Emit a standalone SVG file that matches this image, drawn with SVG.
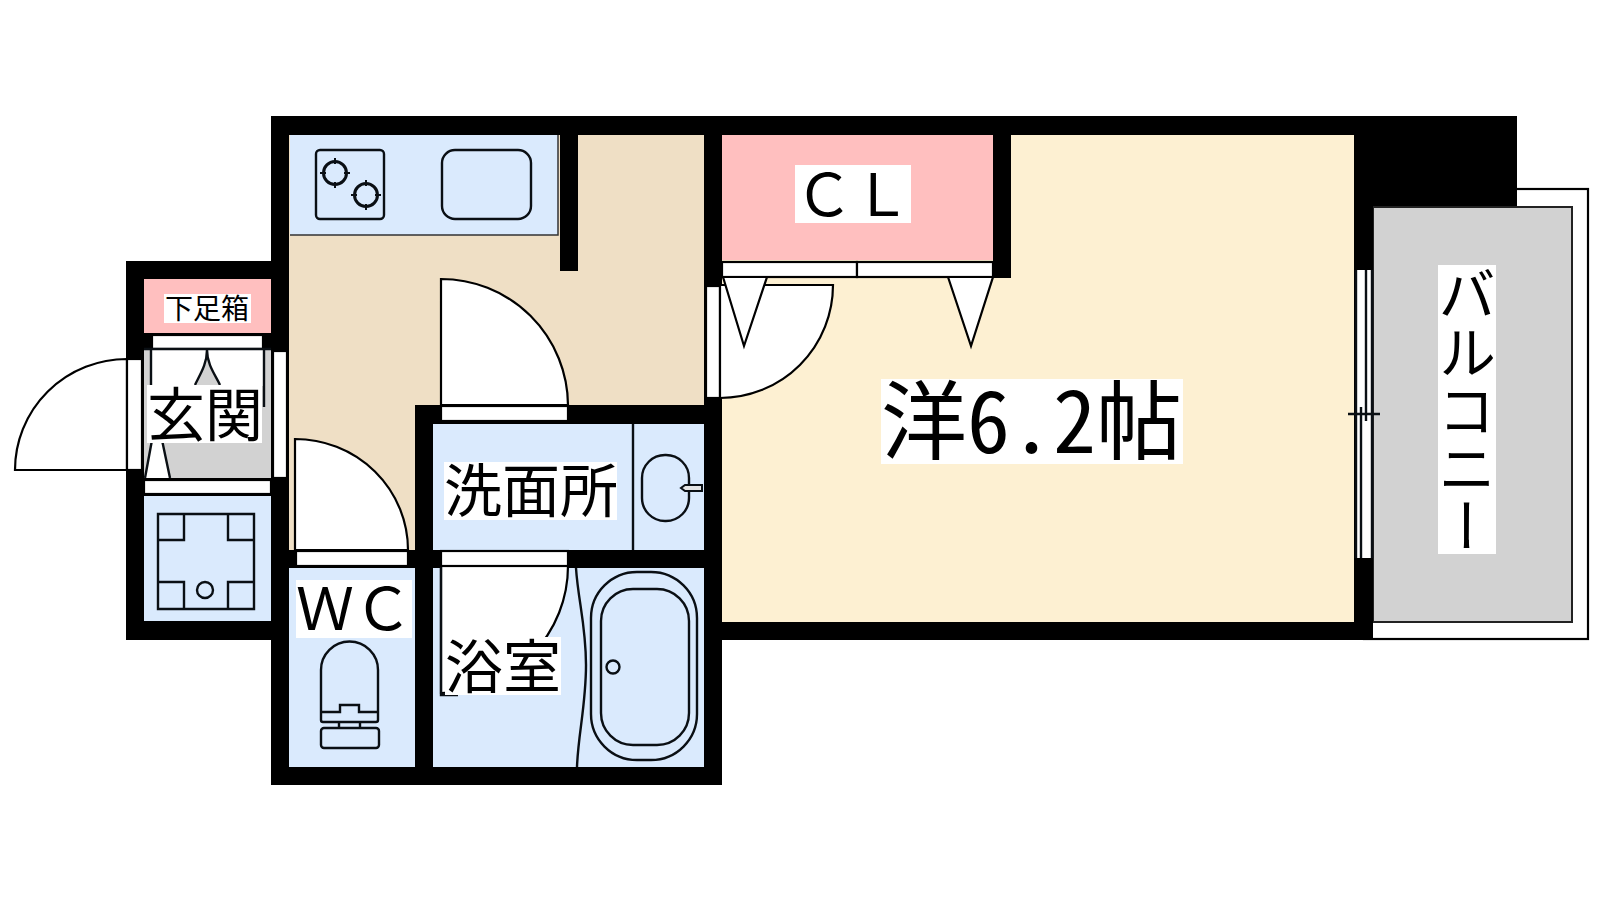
<svg xmlns="http://www.w3.org/2000/svg" width="1600" height="900" viewBox="0 0 1600 900">
<style>
.w{fill:#000}
.blue{fill:#daeafd}
.beige{fill:#efdfc5}
.cream{fill:#fdf0d2}
.pink{fill:#ffbfbf}
.grey{fill:#d2d2d2}
.bg{fill:#fff}
.s{fill:#fff;stroke:#000;stroke-width:2.2}
.l{fill:none;stroke:#0a0f14;stroke-width:2.4}
.b{fill:none;stroke:#0a0f14;stroke-width:3}
.tick{fill:none;stroke:#0a0f14;stroke-width:2}
.t{font-family:"Noto Sans CJK JP","Noto Sans",sans-serif;fill:#000}
.t58{font-size:58px}
.main{font-size:86px;font-feature-settings:"hwid"}
</style>
<rect width="1600" height="900" fill="#fff"/>
<g id="balcony-frame">
<rect class="s" x="1364" y="189" width="224" height="450"/>
</g>
<g id="walls">
<rect class="w" x="271" y="116" width="1246" height="91"/>
<rect class="w" x="271" y="116" width="18" height="669"/>
<rect class="w" x="126" y="261" width="163" height="379"/>
<rect class="w" x="271" y="600" width="451" height="185"/>
<rect class="w" x="704" y="116" width="669" height="524"/>
<rect class="w" x="289" y="550" width="144" height="18"/>
<rect class="w" x="415" y="405" width="18" height="380"/>
</g>
<g id="genkan">
<rect class="grey" x="144" y="349" width="127" height="129"/>
<rect class="pink" x="144" y="279" width="127" height="54"/>
<rect class="s" x="152" y="335" width="111" height="14"/>
<rect class="bg" x="152" y="350" width="112" height="36"/>
<path class="l" d="M151 349V386M264 349V407M144 349H271"/>
<path class="grey" d="M207 352C207 365 198 378 195 385H220C216 378 207 365 207 352Z"/>
<path class="l" d="M207 350C207 365 199 376 195 385M207 350C207 365 216 376 220 385"/>
<path class="bg" d="M152 440L145 478H170L162 440Z"/>
<path class="l" d="M152 440L145 478M162 440L170 478"/>
<path class="s" d="M127 359A112 111 0 0 0 15 470H127Z"/>
<rect class="s" x="127" y="359" width="15" height="111"/>
<rect class="s" x="273" y="351" width="14" height="127"/>
<rect class="s" x="144" y="480" width="127" height="14"/>
<rect class="bg" x="147" y="385" width="115" height="58"/>
<text class="t t58" x="147" y="436">玄関</text>
<rect class="bg" x="164" y="294" width="87" height="29"/>
<text class="t" font-size="28" x="165" y="319">下足箱</text>
</g>
<g id="laundry">
<rect class="blue" x="144" y="496" width="127" height="125"/>
<path class="l" d="M158 514H254V609H158ZM158 540H184V514M228 514V540H254M158 582H184V609M228 609V582H254"/>
<circle class="l" cx="205" cy="590" r="8"/>
</g>
<g id="kitchen">
<rect class="beige" x="289" y="135" width="415" height="270"/>
<rect class="beige" x="289" y="405" width="126" height="145"/>
<rect class="blue" x="290" y="135" width="268" height="100"/>
<path d="M290 235H558V135" fill="none" stroke="#333" stroke-width="1.5"/>
<rect class="w" x="560" y="116" width="18" height="155"/>
<rect class="l" x="316" y="150" width="68" height="69" rx="4"/>
<circle class="b" cx="335" cy="173" r="11.5"/>
<circle class="b" cx="366" cy="195" r="11.5"/>
<path class="tick" d="M335 158V164M335 182V188M320 173H326M344 173H350M366 180V186M366 204V210M351 195H357M375 195H381"/>
<rect class="l" x="442" y="150" width="89" height="69" rx="13"/>
<path class="s" d="M441 279A127 127 0 0 1 568 405H441Z"/>
<rect class="s" x="706" y="286" width="14" height="112"/>
</g>
<g id="washroom">
<rect class="w" x="415" y="405" width="307" height="19"/>
<rect class="w" x="704" y="398" width="18" height="242"/>
<rect class="blue" x="433" y="424" width="271" height="126"/>
<rect class="w" x="433" y="550" width="271" height="18"/>
<rect class="s" x="441" y="406" width="127" height="15"/>
<path class="l" d="M633 424V550"/>
<rect class="l" x="642" y="455" width="47" height="66" rx="23"/>
<path d="M702 485H685L681 488L685 491H702Z" fill="#e4e4e4" stroke="#0a0f14" stroke-width="2"/>
<rect class="bg" x="444" y="462" width="173" height="58"/>
<text class="t t58" x="444" y="512">洗面所</text>
</g>
<g id="wc">
<rect class="blue" x="289" y="568" width="126" height="199"/>
<path class="s" d="M295 439A113 111 0 0 1 408 550H295Z"/>
<rect class="s" x="296" y="551" width="112" height="15"/>
<rect class="bg" x="296" y="580" width="116" height="58"/>
<text class="t t58" x="296" y="630">ＷＣ</text>
<path class="l" d="M321 712V670A28 28 0 0 1 378 670V712M321 712H340V705H359V712H378V720Q378 722 376 722H323Q321 722 321 720ZM339 722V728M360 722V728"/>
<rect class="l" x="321" y="728" width="58" height="20" rx="3"/>
</g>
<g id="bath">
<rect class="blue" x="433" y="568" width="271" height="199"/>
<path class="s" d="M441 566H568A127 127 0 0 1 441 693Z"/>
<path class="l" d="M441 566V695H458"/>
<rect class="s" x="441" y="551" width="127" height="15"/>
<path class="l" d="M576 568C578 600 586 625 586 665C586 705 578 735 577 767"/>
<rect class="l" x="591" y="572" width="106" height="188" rx="46"/>
<rect class="l" x="601" y="589" width="88" height="156" rx="32"/>
<circle class="l" cx="613" cy="667" r="6.5"/>
<rect class="bg" x="445" y="637" width="116" height="58"/>
<text class="t t58" x="445" y="688">浴室</text>
</g>
<g id="closet">
<rect class="cream" x="722" y="135" width="632" height="487"/>
<path class="s" d="M720 285H833A113 113 0 0 1 720 398Z"/>
<rect class="pink" x="722" y="135" width="271" height="125"/>
<rect class="w" x="993" y="116" width="18" height="162"/>
<rect class="w" x="704" y="116" width="18" height="169"/>
<rect class="s" x="722" y="262" width="135" height="15"/>
<rect class="s" x="857" y="262" width="136" height="15"/>
<path class="s" d="M723 277L744 346L767 277Z"/>
<path class="s" d="M948 277L971 346L993 277Z"/>
<rect class="bg" x="795" y="165" width="116" height="58"/>
<text class="t t58" x="795" y="216">ＣＬ</text>
</g>
<g id="room">
<rect class="bg" x="881" y="379" width="302" height="85"/>
<text class="t main" x="881" y="453">洋6.2帖</text>
</g>
<g id="balcony">
<rect x="1373" y="207" width="199" height="415" fill="#d2d2d2" stroke="#222" stroke-width="2"/>
<rect class="w" x="1355" y="200" width="18" height="70"/>
<rect class="w" x="1355" y="558" width="18" height="82"/>
<rect class="w" x="1373" y="190" width="144" height="16"/>
<rect class="bg" x="1355" y="270" width="18" height="288"/>
<path class="l" d="M1356 270V558M1372 270V558M1366 270V414M1361 414V558M1348 414H1380M1361 407V414M1366 414V421"/>
<rect class="bg" x="1438" y="265" width="58" height="289"/>
<text class="t t58" x="1467" y="265" style="writing-mode:vertical-rl">バルコニー</text>
</g>
</svg>
